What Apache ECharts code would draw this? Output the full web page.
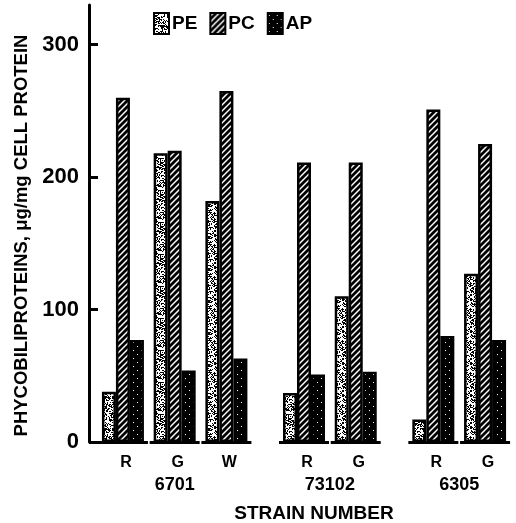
<!DOCTYPE html>
<html>
<head>
<meta charset="utf-8">
<script src="https://cdn.jsdelivr.net/npm/echarts@6/dist/echarts.min.js"></script>
<style>
html,body{margin:0;padding:0;background:#fff;}
#chart{width:516px;height:523px;}
</style>
</head>
<body>
<div id="chart"></div>
<script>
// ---- data ----
const conditions = ['R', 'G', 'W', 'R', 'G', 'R', 'G'];
const strains = ['6701', '6701', '6701', '73102', '73102', '6305', '6305'];
const pe = [38, 218, 182, 37, 110, 17, 127];
const pc = [260, 220, 265, 211, 211, 251, 225];
const ap = [77, 54, 63, 51, 53, 80, 77];
const seriesNames = ['PE', 'PC', 'AP'];
const yTicks = [0, 100, 200, 300];
const yTitle = 'PHYCOBILIPROTEINS, \u03bcg/mg CELL PROTEIN';
const xTitle = 'STRAIN NUMBER';

// ---- slot layout (gap between strains) ----
const slotIdx = [];
let s = 0;
conditions.forEach((c, i) => {
  if (i > 0) s += (strains[i] === strains[i - 1]) ? 2 : 3;
  slotIdx.push(s);
});
const nSlots = s + 1;
const slotKeys = Array.from({length: nSlots}, (_, i) => 's' + i);
const condLabel = {}, strainLabel = {};
conditions.forEach((c, i) => { condLabel[slotKeys[slotIdx[i]]] = c; });
const uniqStrains = [...new Set(strains)];
uniqStrains.forEach(st => {
  const idx = slotIdx.filter((_, i) => strains[i] === st);
  const mid = (idx[0] + idx[idx.length - 1]) / 2;
  strainLabel[slotKeys[mid]] = st;
});
function toSlots(arr) {
  const out = Array(nSlots).fill('-');
  arr.forEach((v, i) => { out[slotIdx[i]] = v; });
  return out;
}

// ---- patterns ----
function mkCanvas(w, h) { const c = document.createElement('canvas'); c.width = w; c.height = h; return c; }
function stipple() {
  const c = mkCanvas(32, 32), g = c.getContext('2d');
  g.fillStyle = '#fff'; g.fillRect(0, 0, 32, 32);
  g.fillStyle = '#000';
  for (let y = 0; y < 32; y++) for (let x = 0; x < 32; x++) {
    const h = Math.sin(x * 12.9898 + y * 78.233) * 43758.5453;
    const f = h - Math.floor(h);
    if (f < 0.45) g.fillRect(x, y, 1, 1);
  }
  return c;
}
function hatch() {
  const p = 6;
  const c = mkCanvas(p, p), g = c.getContext('2d');
  g.fillStyle = '#fff'; g.fillRect(0, 0, p, p);
  g.strokeStyle = '#000'; g.lineWidth = 2.8;
  g.beginPath();
  g.moveTo(-p, 2 * p); g.lineTo(2 * p, -p);
  g.moveTo(-2 * p, 2 * p); g.lineTo(p, -p);
  g.moveTo(0, 2 * p); g.lineTo(3 * p, -p);
  g.stroke();
  return c;
}
function dots() {
  const c = mkCanvas(8, 8), g = c.getContext('2d');
  g.fillStyle = '#000'; g.fillRect(0, 0, 8, 8);
  g.fillStyle = '#fff';
  g.fillRect(1, 2, 1, 1);
  g.fillRect(5, 6, 1, 1);
  return c;
}
const patterns = [
  {image: stipple(), repeat: 'repeat'},
  {image: hatch(), repeat: 'repeat'},
  {image: dots(), repeat: 'repeat'}
];

const FONT = '"Liberation Sans", Arial, sans-serif';
const chart = echarts.init(document.getElementById('chart'), null, {renderer: 'canvas'});
const values = [pe, pc, ap];

const barSeries = seriesNames.map((n, k) => ({
  name: n,
  type: 'bar',
  xAxisIndex: 0,
  data: toSlots(values[k]),
  barWidth: 14,
  barGap: '0%',
  clip: false,
  itemStyle: {color: patterns[k], borderColor: '#000', borderWidth: 2.5},
  emphasis: {disabled: true},
  animation: false
}));

const option = {
  animation: false,
  backgroundColor: '#fff',
  grid: {left: 110, right: 18, top: 5, bottom: 81, containLabel: false, outerBoundsMode: 'none'},
  legend: {
    left: 153, top: 12, padding: 0,
    itemWidth: 15, itemHeight: 21, itemGap: 12,
    icon: 'rect',
    data: seriesNames,
    textStyle: {fontFamily: FONT, fontWeight: 'bold', fontSize: 19, color: '#000', padding: [0, 0, 0, -2]},
    selectedMode: false
  },
  xAxis: [
    {
      type: 'category', data: slotKeys, position: 'bottom',
      axisLine: {show: false}, axisTick: {show: false},
      axisLabel: {interval: 0, margin: 13, formatter: v => condLabel[v] || '',
        fontFamily: FONT, fontWeight: 'bold', fontSize: 16, color: '#000', padding: [0, 0, 0, 6]}
    },
    {
      type: 'category', data: slotKeys, position: 'bottom',
      axisLine: {show: false}, axisTick: {show: false},
      axisLabel: {interval: 0, margin: 34, formatter: v => strainLabel[v] || '',
        fontFamily: FONT, fontWeight: 'bold', fontSize: 18, color: '#000'},
      name: xTitle, nameLocation: 'middle', nameGap: 62,
      nameTextStyle: {fontFamily: FONT, fontWeight: 'bold', fontSize: 19, color: '#000', padding: [0, 0, 0, 20]}
    }
  ],
  yAxis: {
    type: 'value', min: 0, max: 330, interval: 100, offset: 21,
    splitLine: {show: false},
    axisLine: {show: true, lineStyle: {color: '#000', width: 3}},
    axisTick: {show: true, inside: true, length: 9, lineStyle: {color: '#000', width: 3}, customValues: yTicks},
    axisLabel: {customValues: yTicks, margin: 10, fontFamily: FONT, fontWeight: 'bold', fontSize: 22, color: '#000',
      formatter: v => (yTicks.indexOf(v) >= 0 ? String(v) : '')},
    name: yTitle, nameLocation: 'middle', nameGap: 56, nameRotate: 90,
    nameTextStyle: {fontFamily: FONT, fontWeight: 'bold', fontSize: 18.5, color: '#000', padding: [0, 24, 0, 0]}
  },
  series: barSeries.concat([{
    type: 'custom',
    xAxisIndex: 0,
    data: slotIdx.map(i => [i, 0]),
    encode: {x: 0, y: 1},
    z: 5,
    silent: true,
    clip: false,
    renderItem: (params, api) => {
      const c = api.coord([api.value(0), api.value(1)]);
      return {type: 'line', shape: {x1: c[0] - 25, y1: c[1] + 0.5, x2: c[0] + 25, y2: c[1] + 0.5},
        style: {stroke: '#000', lineWidth: 3}};
    }
  }])
};
chart.setOption(option);
</script>
</body>
</html>
